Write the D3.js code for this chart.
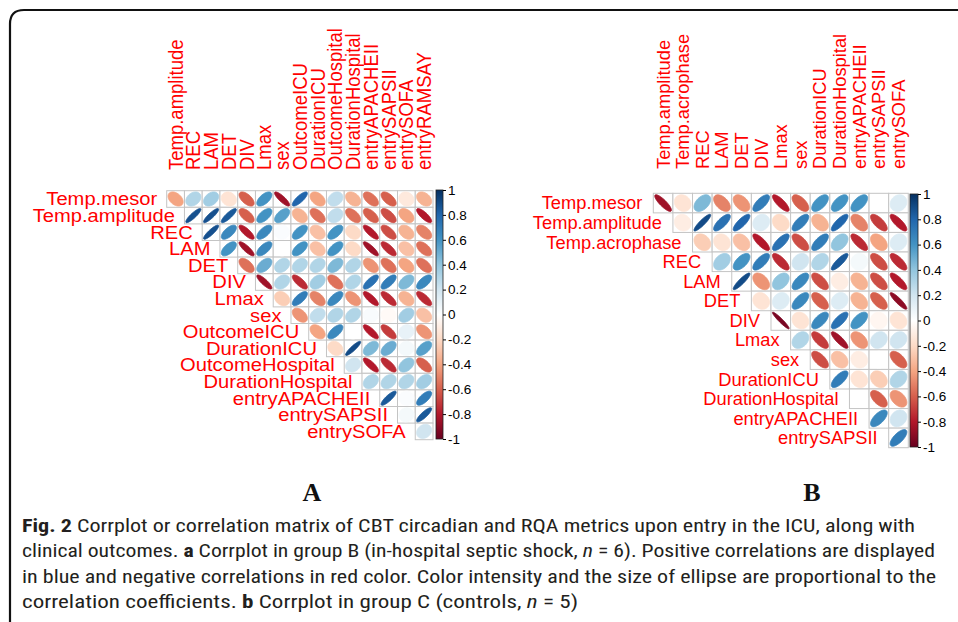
<!DOCTYPE html>
<html><head><meta charset="utf-8">
<script src="https://cdn.jsdelivr.net/npm/d3@7/dist/d3.min.js"></script>
<style>body{margin:0;background:#fff}svg{display:block}</style>
</head><body>
<svg id="chart" width="958" height="622"></svg>
<script>
// ---------------- DATA ----------------
const rowsA = ["Temp.mesor","Temp.amplitude","REC","LAM","DET","DIV","Lmax","sex","OutcomeICU","DurationICU","OutcomeHospital","DurationHospital","entryAPACHEII","entrySAPSII","entrySOFA"];
const colsA = ["Temp.amplitude","REC","LAM","DET","DIV","Lmax","sex","OutcomeICU","DurationICU","OutcomeHospital","DurationHospital","entryAPACHEII","entrySAPSII","entrySOFA","entryRAMSAY"];
// row i holds correlations with columns i..end (upper triangle)
const valuesA = [
  [-0.4, 0.3, 0.35, -0.15, -0.6, 0.6, -0.85, 0.8, -0.4, 0.25, -0.35, -0.55, -0.6, -0.12, -0.35],
  [0.88, 0.88, 0.85, -0.6, 0.6, 0.55, -0.35, -0.55, 0.25, -0.55, -0.6, -0.65, -0.4, -0.8],
  [0.88, 0.65, -0.8, 0.65, 0.02, 0.6, -0.3, 0.6, -0.2, -0.8, -0.65, -0.35, -0.5],
  [0.6, -0.85, 0.65, 0.0, 0.6, -0.3, 0.6, -0.2, -0.85, -0.75, -0.3, -0.55],
  [-0.55, 0.5, 0.3, 0.3, 0.3, 0.45, 0.3, -0.45, -0.55, -0.4, -0.55],
  [-0.85, 0.3, -0.75, 0.35, -0.55, 0.3, 0.75, 0.7, 0.45, 0.65],
  [-0.25, 0.7, -0.5, 0.65, -0.45, -0.8, -0.75, -0.35, -0.75],
  [-0.45, 0.25, 0.3, 0.3, 0.03, -0.03, 0.35, -0.3],
  [-0.4, 0.65, 0.0, -0.8, -0.7, 0.1, -0.45],
  [-0.2, 0.9, 0.45, 0.5, 0.05, 0.55],
  [0.2, -0.8, -0.75, 0.4, -0.6],
  [0.3, 0.3, 0.3, 0.35],
  [0.85, 0.02, 0.7],
  [0.05, 0.85],
  [0.2]
];
const rowsB = ["Temp.mesor","Temp.amplitude","Temp.acrophase","REC","LAM","DET","DIV","Lmax","sex","DurationICU","DurationHospital","entryAPACHEII","entrySAPSII"];
const colsB = ["Temp.amplitude","Temp.acrophase","REC","LAM","DET","DIV","Lmax","sex","DurationICU","DurationHospital","entryAPACHEII","entrySAPSII","entrySOFA"];
const valuesB = [
  [-0.85, -0.15, 0.45, -0.5, -0.45, 0.7, -0.8, -0.6, 0.6, 0.6, 0.6, 0.0, 0.15],
  [-0.1, 0.9, 0.75, 0.8, 0.15, -0.2, 0.7, -0.35, 0.8, -0.5, -0.7, -0.8],
  [-0.25, -0.15, -0.3, -0.8, 0.75, -0.65, 0.7, 0.4, -0.75, -0.4, 0.15],
  [0.35, 0.6, 0.7, -0.75, 0.2, 0.3, 0.85, 0.05, -0.65, -0.75],
  [0.9, -0.45, 0.4, 0.65, -0.65, -0.1, -0.35, -0.65, -0.8],
  [-0.15, 0.15, 0.65, -0.6, 0.15, -0.35, -0.6, -0.9],
  [-0.95, -0.15, 0.65, 0.75, 0.6, -0.05, -0.15],
  [0.3, -0.7, -0.85, -0.45, 0.2, 0.2],
  [-0.65, -0.3, -0.1, 0.0, -0.6],
  [0.7, -0.15, -0.25, 0.3],
  [0.0, -0.6, -0.45],
  [0.65, 0.2],
  [0.7]
];
const colorbarTicks = [1, 0.8, 0.6, 0.4, 0.2, 0, -0.2, -0.4, -0.6, -0.8, -1];
const colorbarLabels = ["1","0.8","0.6","0.4","0.2","0","-0.2","-0.4","-0.6","-0.8","-1"];
const paletteStops = ["#67001F","#B2182B","#D6604D","#F4A582","#FDDBC7","#FFFFFF","#D1E5F0","#92C5DE","#4393C3","#2166AC","#053061"];
const panelLetters = ["A","B"];
const captionLines = [
  [["Fig. 2","b"],[" Corrplot or correlation matrix of CBT circadian and RQA metrics upon entry in the ICU, along with",""]],
  [["clinical outcomes. ",""],["a","b"],[" Corrplot in group B (in-hospital septic shock, ",""],["n","i"],[" = 6). Positive correlations are displayed",""]],
  [["in blue and negative correlations in red color. Color intensity and the size of ellipse are proportional to the",""]],
  [["correlation coefficients. ",""],["b","b"],[" Corrplot in group C (controls, ",""],["n","i"],[" = 5)",""]]
];

// ---------------- DRAW ----------------
const svg = d3.select("#chart");
const color = d3.scaleLinear()
  .domain(d3.range(paletteStops.length).map(i => -1 + 2*i/(paletteStops.length-1)))
  .range(paletteStops).interpolate(d3.interpolateRgb);

// frame
svg.append("path").attr("d","M10,622 V24 Q10,10 24,10 H958")
  .attr("fill","none").attr("stroke","#111").attr("stroke-width",2.2);

const defs = svg.append("defs");
const grad = defs.append("linearGradient").attr("id","cbar").attr("x1",0).attr("y1",1).attr("x2",0).attr("y2",0);
paletteStops.forEach((c,i)=>grad.append("stop").attr("offset", i/(paletteStops.length-1)).attr("stop-color", c));

function panel(cfg, rows, cols, values) {
  const g = svg.append("g");
  const x = d3.scaleBand().domain(cols).range([cfg.x0, cfg.x1]);
  const y = d3.scaleBand().domain(rows).range([cfg.y0, cfg.y1]);
  const bw = x.bandwidth(), bh = y.bandwidth();
  const cells = [];
  values.forEach((row, i) => row.forEach((v, k) => cells.push({r: rows[i], c: cols[i+k], v})));
  // grid
  g.selectAll("rect.cell").data(cells).join("rect")
    .attr("x", d => x(d.c)).attr("y", d => y(d.r))
    .attr("width", bw).attr("height", bh)
    .attr("fill","#fff").attr("stroke","#c4c4c4").attr("stroke-width",1);
  // ellipses
  const ts = d3.range(0, 72).map(k => k/72*2*Math.PI);
  const line = d3.line().curve(d3.curveLinearClosed);
  g.selectAll("path.ell").data(cells).join("path")
    .attr("d", d => {
      const a = Math.acos(Math.max(-1, Math.min(1, d.v)));
      const cx = x(d.c) + bw/2, cy = y(d.r) + bh/2;
      return line(ts.map(t => [cx + 0.85*Math.cos(t + a/2)/2*bw, cy - 0.85*Math.cos(t - a/2)/2*bh]));
    })
    .attr("fill", d => color(d.v)).attr("stroke", d => color(d.v)).attr("stroke-width", 0.9);
  // row labels
  g.selectAll("text.rl").data(rows).join("text")
    .attr("transform", (d,i) => `translate(${x(cols[i]) - cfg.gap},${y(d) + bh/2}) scale(${cfg.sx},1)`)
    .attr("dy","0.35em").attr("text-anchor","end")
    .attr("font-family","'Liberation Sans', Arial, sans-serif").attr("font-size", cfg.fs)
    .attr("fill","#FF0000").text(d => d);
  // column labels
  g.selectAll("text.cl").data(cols).join("text")
    .attr("transform", d => `translate(${x(d) + bw/2},${cfg.colBottom}) scale(${cfg.sx},1) rotate(-90)`)
    .attr("dy","0.35em").attr("text-anchor","start")
    .attr("font-family","'Liberation Sans', Arial, sans-serif").attr("font-size", cfg.fs)
    .attr("fill","#FF0000").text(d => d);
  // colorbar
  const yb = d3.scaleLinear().domain([-1, 1]).range([cfg.by1, cfg.by0]);
  g.append("rect").attr("x", cfg.bx).attr("y", cfg.by0).attr("width", cfg.bw).attr("height", cfg.by1 - cfg.by0)
    .attr("fill","url(#cbar)").attr("stroke","#222").attr("stroke-width",0.8);
  const ax = g.append("g").attr("transform", `translate(${cfg.bx + cfg.bw},0)`)
    .call(d3.axisRight(yb).tickValues(colorbarTicks).tickFormat((d,i) => colorbarLabels[i]).tickSize(3).tickPadding(2));
  ax.select(".domain").remove();
  ax.selectAll("line").attr("stroke","#000");
  ax.selectAll("text").attr("font-family","'Liberation Sans', Arial, sans-serif").attr("font-size",13.5).attr("fill","#000");
  // panel letter
  svg.append("text").attr("x", cfg.letterX).attr("y", 501).attr("text-anchor","middle")
    .attr("font-family","'Liberation Serif','Times New Roman',serif").attr("font-weight","bold")
    .attr("font-size",26).attr("fill","#111").text(cfg.letter);
}

panel({x0:166.7, x1:433, y0:190.7, y1:439.7, sx:1.09, fs:18.5, gap:9.5, colBottom:170,
       bx:436, bw:7, by0:190, by1:439, letterX:312, letter:panelLetters[0]}, rowsA, colsA, valuesA);
panel({x0:653.3, x1:908.3, y0:193.3, y1:447.7, sx:1.0, fs:18.3, gap:11, colBottom:169,
       bx:910, bw:8, by0:194, by1:447, letterX:812, letter:panelLetters[1]}, rowsB, colsB, valuesB);

// caption
const capX = 22, capY0 = 532, capDY = 25.3;
const capWidths = [893, 913, 914, 556];
captionLines.forEach((parts, i) => {
  const t = svg.append("text").attr("x", capX).attr("y", capY0 + i*capDY)
    .attr("font-family","'Liberation Sans Narrow','Roboto Condensed','DejaVu Sans Condensed','Liberation Sans',sans-serif")
    .attr("font-size",19).attr("fill","#231f20")
    .attr("textLength", capWidths[i]).attr("lengthAdjust","spacingAndGlyphs");
  parts.forEach(([s, st]) => {
    const sp = t.append("tspan").text(s);
    if (st === "b") sp.attr("font-weight","bold");
    if (st === "i") sp.attr("font-style","italic");
  });
});
</script>
</body></html>
